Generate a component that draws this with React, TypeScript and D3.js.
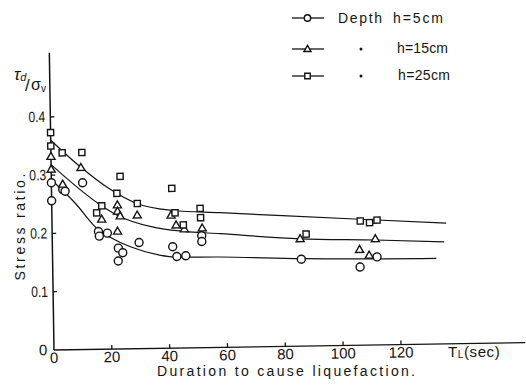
import React from "react";
import * as d3 from "d3";

// ---- data ----
const xTicks = [0, 20, 40, 60, 80, 100, 120];
const yTicks = [0.1, 0.2, 0.3, 0.4];
const yTickLabels = ["0.1", "0.2", "0.3", "0.4"];

// h = 5cm (circles)
const h5X = [0, 0, 3.9, 4.7, 10.8, 16, 16.3, 19.1, 22.8, 24.3, 22.7, 30, 41.6, 43, 46.1, 51.7, 51.7, 86, 106.3, 112.2];
const h5Y = [0.256, 0.287, 0.275, 0.272, 0.286, 0.202, 0.194, 0.199, 0.173, 0.165, 0.151, 0.182, 0.174, 0.157, 0.158, 0.192, 0.182, 0.149, 0.134, 0.151];

// h = 15cm (triangles)
const h15X = [0, 0, 3.9, 10.3, 17.2, 22.7, 22.7, 23.6, 22.6, 29.5, 41.2, 42.9, 45.7, 51.9, 85.7, 111.7, 106.2, 109.5];
const h15Y = [0.332, 0.31, 0.284, 0.312, 0.223, 0.247, 0.236, 0.228, 0.202, 0.229, 0.228, 0.211, 0.204, 0.205, 0.184, 0.182, 0.164, 0.154];

// h = 25cm (squares)
const h25X = [0, 0, 3.9, 10.7, 23.8, 22.6, 17.3, 15.5, 29.6, 41.6, 42.6, 51.3, 51.4, 45.4, 87.8, 106.6, 109.8, 112.4];
const h25Y = [0.373, 0.35, 0.338, 0.338, 0.296, 0.267, 0.246, 0.234, 0.249, 0.274, 0.232, 0.239, 0.223, 0.211, 0.192, 0.213, 0.21, 0.214];

// fitted curves
const h5CurveX = [0, 8, 16, 20, 27, 37, 43, 58, 86, 132.7];
const h5CurveY = [0.292, 0.252, 0.205, 0.192, 0.175, 0.16, 0.156, 0.155, 0.15, 0.147];
const h15CurveX = [0, 16.7, 22.4, 35, 45.4, 58.1, 85.7, 111.7, 135.5];
const h15CurveY = [0.318, 0.248, 0.23, 0.208, 0.2, 0.195, 0.184, 0.18, 0.175];
const h25CurveX = [0, 10.2, 20.3, 29.4, 42, 58.2, 106.6, 136.3];
const h25CurveY = [0.36, 0.313, 0.274, 0.249, 0.236, 0.231, 0.216, 0.207];

const legendLabels = ["h=5cm", "h=15cm", "h=25cm"];

// ---- layout ----
const W = 526;
const H = 385;
const x = d3.scaleLinear().domain([0, 120]).range([54, 401]);
const y = d3.scaleLinear().domain([0, 0.4]).range([350, 350 - 233.2]);
const FONT = "'Liberation Sans', Arial, sans-serif";
const INK = "#141414";

const line = d3
  .line<[number, number]>()
  .x((d) => x(d[0]))
  .y((d) => y(d[1]))
  .curve(d3.curveMonotoneX);

const zip = (a: number[], b: number[]): [number, number][] => a.map((v, i) => [v, b[i]]);

const triPath = d3.symbol().type(d3.symbolTriangle).size(28)()!;
const sqPath = d3.symbol().type(d3.symbolSquare).size(38)()!;
const triSmall = d3.symbol().type(d3.symbolTriangle).size(22)()!;
const sqSmall = d3.symbol().type(d3.symbolSquare).size(30)()!;

const Marker = ({ kind, cx, cy, small }: { kind: number; cx: number; cy: number; small?: boolean }) => {
  const common = { fill: "#fff", stroke: INK, strokeWidth: 1.4 };
  if (kind === 0) return <circle cx={cx} cy={cy} r={small ? 3.2 : 4} {...common} />;
  if (kind === 1) return <path d={small ? triSmall : triPath} transform={`translate(${cx},${cy + 0.5})`} {...common} />;
  return <path d={small ? sqSmall : sqPath} transform={`translate(${cx},${cy})`} {...common} />;
};

export default function App() {
  const series = [
    { xs: h5X, ys: h5Y, cx: h5CurveX, cy: h5CurveY, kind: 0 },
    { xs: h15X, ys: h15Y, cx: h15CurveX, cy: h15CurveY, kind: 1 },
    { xs: h25X, ys: h25Y, cx: h25CurveX, cy: h25CurveY, kind: 2 },
  ];
  const legendRows = [18, 49, 76];
  const legendTextY = [23, 53, 80];
  const legendTextX = [393, 397, 398];
  const legendTextW = [50, 51, 52];

  return (
    <svg
      width={W}
      height={H}
      style={{ position: "absolute", left: 0, top: 0, background: "#fff" }}
      fontFamily={FONT}
    >
      <rect width={W} height={H} fill="#fff" />
      <g transform="rotate(-0.9 54 350)">
        {/* axes */}
        <line x1={x(0)} x2={x(163)} y1={y(0)} y2={y(0)} stroke={INK} strokeWidth={1.4} />
        <line x1={x(0)} x2={x(0)} y1={y(0)} y2={y(0.51)} stroke={INK} strokeWidth={1.5} />
        {xTicks.map((t) => (
          <g key={"xt" + t}>
            {t > 0 && <line x1={x(t)} x2={x(t)} y1={y(0)} y2={y(0) - 4} stroke={INK} strokeWidth={1.3} />}
            <text x={x(t)} y={y(0) + 13} textAnchor="middle" fontSize={15} fill={INK}>
              {t}
            </text>
          </g>
        ))}
        {yTicks.map((t, i) => (
          <g key={"yt" + t}>
            <line x1={x(0)} x2={x(0) + 4} y1={y(t)} y2={y(t)} stroke={INK} strokeWidth={1.3} />
            <text x={x(0) - 5} y={y(t) + 5} textAnchor="end" fontSize={15} fill={INK} textLength={17} lengthAdjust="spacingAndGlyphs">
              {yTickLabels[i]}
            </text>
          </g>
        ))}
        <text x={43} y={355} textAnchor="middle" fontSize={15} fill={INK}>0</text>

        {/* curves */}
        {series.map((s, i) => (
          <path key={"c" + i} d={line(zip(s.cx, s.cy)) || ""} fill="none" stroke={INK} strokeWidth={1.2} />
        ))}
        {/* points */}
        {series.map((s, i) =>
          s.xs.map((v, j) => <Marker key={`p${i}-${j}`} kind={s.kind} cx={x(v)} cy={y(s.ys[j])} />)
        )}
      </g>

      {/* axis titles */}
      <text x={448} y={357} fontSize={15} fill={INK} letterSpacing={0.6}>
        T<tspan fontSize={10} dy={1}>L</tspan>
        <tspan fontSize={15} dy={-1}>(sec)</tspan>
      </text>
      <text x={157} y={376} fontSize={14} fill={INK} textLength={258} lengthAdjust="spacing">
        Duration to cause liquefaction.
      </text>
      <text
        x={25}
        y={227}
        fontSize={14}
        fill={INK}
        textAnchor="middle"
        textLength={107}
        lengthAdjust="spacing"
        transform="rotate(-90 25 227)"
      >
        Stress ratio.
      </text>
      <text x={14} y={80} fontSize={17} fill={INK} fontStyle="italic">
        τ<tspan fontSize={11} dy={1}>d</tspan>
      </text>
      <text x={25} y={91} fontSize={17} fill={INK}>/</text>
      <text x={31} y={90} fontSize={16} fill={INK}>
        σ<tspan fontSize={10} dy={2}>v</tspan>
      </text>

      {/* legend */}
      {legendRows.map((ly, i) => (
        <g key={"lg" + i}>
          <line x1={292} x2={324} y1={ly} y2={ly} stroke={INK} strokeWidth={1.3} />
          <Marker kind={i} cx={307.5} cy={ly} small />
          {i > 0 && <circle cx={361} cy={ly} r={1.5} fill={INK} />}
          <text x={legendTextX[i]} y={legendTextY[i]} fontSize={14} fill={INK} textLength={legendTextW[i]} lengthAdjust="spacing">
            {legendLabels[i]}
          </text>
        </g>
      ))}
      <text x={338} y={23} fontSize={14} fill={INK} textLength={44} lengthAdjust="spacing">
        Depth
      </text>
    </svg>
  );
}
